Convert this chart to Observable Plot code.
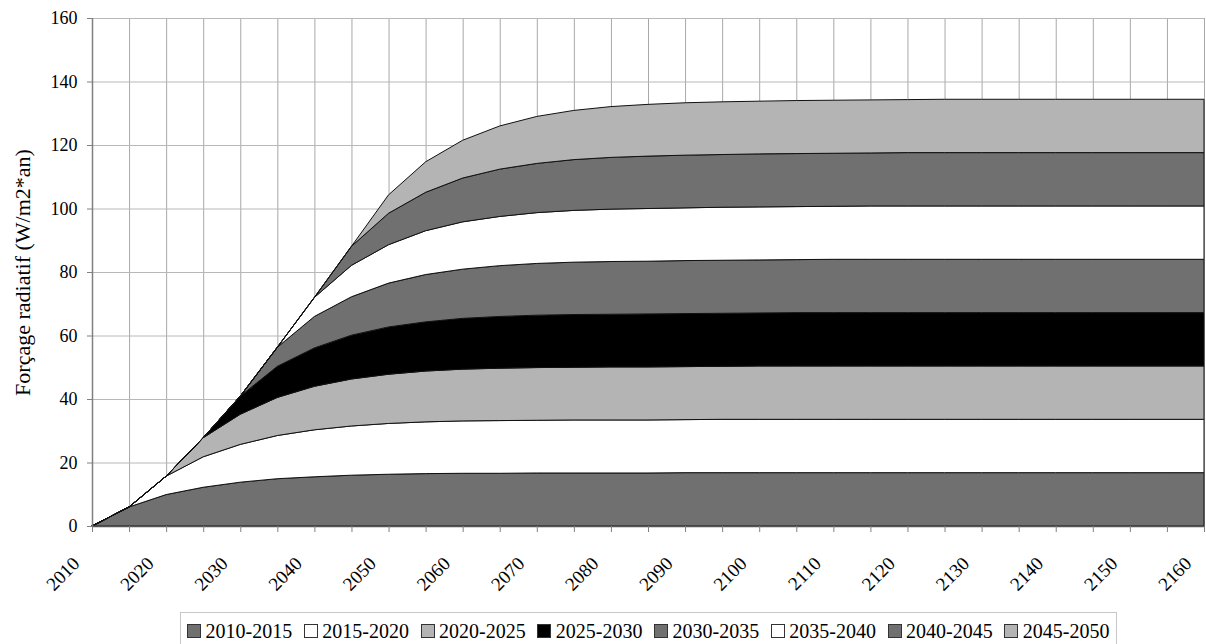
<!DOCTYPE html>
<html>
<head>
<meta charset="utf-8">
<script src="https://cdn.jsdelivr.net/npm/d3@7"></script>
<script src="https://cdn.jsdelivr.net/npm/@observablehq/plot@0.6"></script>
<style>
  body { margin: 0; background: #fff; font-family: "Liberation Serif", "Times New Roman", Times, "DejaVu Serif", serif; }
  svg text { font-family: "Liberation Serif", "Times New Roman", Times, "DejaVu Serif", serif !important; }
  #legend {
    margin-left: 180px; margin-top: 12px; width: 937px; height: 40px;
    border: 1px solid #c8c8c8; box-sizing: border-box;
    display: flex; align-items: center; padding-left: 6px; padding-bottom: 2px;
    white-space: nowrap; overflow: hidden;
  }
  .item { display: flex; align-items: center; margin-right: 11.6px; font-size: 20px; color: #000; flex-shrink: 0; white-space: nowrap; }
  .sw { width: 12px; height: 12px; border: 1px solid #333; margin-right: 4.5px; flex-shrink: 0; }
</style>
</head>
<body>
<div id="chart"></div>
<div id="legend"></div>
<script>
const years = [2010,2015,2020,2025,2030,2035,2040,2045,2050,2055,2060,2065,2070,2075,2080,2085,2090,2095,2100,2105,2110,2115,2120,2125,2130,2135,2140,2145,2150,2155,2160];
const labelYears = [2010,2020,2030,2040,2050,2060,2070,2080,2090,2100,2110,2120,2130,2140,2150,2160];
const yTicks = [0,20,40,60,80,100,120,140,160];
const seriesNames = ["2010-2015","2015-2020","2020-2025","2025-2030","2030-2035","2035-2040","2040-2045","2045-2050"];
const seriesColors = ["#707070","#ffffff","#b4b4b4","#000000","#707070","#ffffff","#707070","#b4b4b4"];

const s1 = [0,6.0,9.9,12.2,13.8,14.9,15.5,16.0,16.3,16.5,16.6,16.6,16.7,16.7,16.7,16.7,16.8,16.8,16.8,16.8,16.8,16.8,16.8,16.8,16.8,16.8,16.8,16.8,16.8,16.8,16.8];
const s2 = [0,0,5.8,9.6,11.9,13.6,14.8,15.5,16.0,16.3,16.5,16.6,16.6,16.7,16.7,16.7,16.7,16.8,16.8,16.8,16.8,16.8,16.8,16.8,16.8,16.8,16.8,16.8,16.8,16.8,16.8];
const s3 = [0,0,0,6.0,9.5,12.0,13.7,14.8,15.5,16.0,16.3,16.5,16.6,16.6,16.7,16.7,16.7,16.7,16.8,16.8,16.8,16.8,16.8,16.8,16.8,16.8,16.8,16.8,16.8,16.8,16.8];
const s4 = [0,0,0,0,5.7,9.8,12.1,13.8,14.9,15.5,16.0,16.3,16.5,16.6,16.6,16.7,16.7,16.7,16.7,16.8,16.8,16.8,16.8,16.8,16.8,16.8,16.8,16.8,16.8,16.8,16.8];
const s5 = [0,0,0,0,0,6.0,9.9,12.1,13.8,14.9,15.5,16.0,16.3,16.5,16.6,16.6,16.7,16.7,16.7,16.7,16.8,16.8,16.8,16.8,16.8,16.8,16.8,16.8,16.8,16.8,16.8];
const s6 = [0,0,0,0,0,0,6.0,9.9,12.1,13.8,14.9,15.5,16.0,16.3,16.5,16.6,16.6,16.7,16.7,16.7,16.7,16.8,16.8,16.8,16.8,16.8,16.8,16.8,16.8,16.8,16.8];
const s7 = [0,0,0,0,0,0,0,6.0,9.9,12.1,13.8,14.9,15.5,16.0,16.3,16.5,16.6,16.6,16.7,16.7,16.7,16.7,16.8,16.8,16.8,16.8,16.8,16.8,16.8,16.8,16.8];
const s8 = [0,0,0,0,0,0,0,0,5.8,9.6,11.9,13.6,14.8,15.5,16.0,16.3,16.5,16.6,16.6,16.7,16.7,16.7,16.7,16.8,16.8,16.8,16.8,16.8,16.8,16.8,16.8];
const seriesValues = [s1,s2,s3,s4,s5,s6,s7,s8];

const rows = [];
seriesValues.forEach((vals, k) => {
  vals.forEach((v, i) => rows.push({year: years[i], series: seriesNames[k], color: seriesColors[k], value: v}));
});

const serif = "'Liberation Serif', 'Times New Roman', Times, 'DejaVu Serif', serif";
const chart = Plot.plot({
  width: 1206,
  height: 600,
  marginLeft: 92,
  marginRight: 2,
  marginTop: 18,
  marginBottom: 74,
  style: {fontFamily: serif, background: "#fff", color: "#000"},
  x: {domain: [2010, 2160], axis: null},
  y: {domain: [0, 160], axis: null},
  color: {type: "identity"},
  marks: [
    Plot.gridX(years, {stroke: "#a8a8a8", strokeOpacity: 1, strokeWidth: 1}),
    Plot.gridY(yTicks, {stroke: "#b8b8b8", strokeOpacity: 1, strokeWidth: 1}),
    Plot.areaY(rows, Plot.stackY({x: "year", y: "value", z: "series", fill: "color", stroke: "#111", strokeWidth: 1, strokeLinejoin: "round"})),
    Plot.ruleX([2010], {stroke: "#808080", strokeWidth: 1.5}),
    Plot.ruleY([0], {stroke: "#555", strokeWidth: 1.5}),
    Plot.axisY({ticks: yTicks, tickSize: 5, tickPadding: 10, fontSize: 18, fontFamily: serif, stroke: "#808080", label: null, tickFormat: d => String(d)}),
    Plot.axisX({ticks: years, tickSize: 6, tickPadding: 0, stroke: "#808080", label: null, tickFormat: () => ""}),
    Plot.text(labelYears, {x: d => d, frameAnchor: "bottom", text: d => String(d), rotate: -45, textAnchor: "end", lineAnchor: "middle", fontSize: 19, fontFamily: serif, dx: -16, dy: 34, fill: "#000"}),
    Plot.text(["Forçage radiatif (W/m2*an)"], {frameAnchor: "left", dx: -70, rotate: -90, fontSize: 22, fontFamily: serif, textAnchor: "middle", lineAnchor: "middle", fill: "#000"})
  ]
});
document.getElementById("chart").appendChild(chart);

const legend = document.getElementById("legend");
seriesNames.forEach((name, k) => {
  const item = document.createElement("div");
  item.className = "item";
  const sw = document.createElement("span");
  sw.className = "sw";
  sw.style.background = seriesColors[k];
  const t = document.createElement("span");
  t.textContent = name;
  item.appendChild(sw);
  item.appendChild(t);
  legend.appendChild(item);
});
</script>
</body>
</html>
